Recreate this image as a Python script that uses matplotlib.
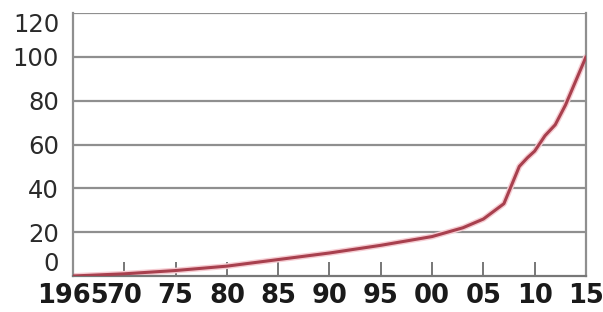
import matplotlib
matplotlib.use("Agg")
import matplotlib.pyplot as plt

years = [1965, 1970, 1975, 1980, 1985, 1990, 1995, 2000, 2003, 2005, 2007,
         2008.5, 2009.3, 2010, 2011, 2012, 2013, 2014, 2015]
values = [0, 1, 2.5, 4.5, 7.5, 10.5, 14, 18, 22, 26, 33,
          50, 54, 57, 64, 69, 78, 89, 100]

xticks = [1965, 1970, 1975, 1980, 1985, 1990, 1995, 2000, 2005, 2010, 2015]
xlabels = ["1965", "70", "75", "80", "85", "90", "95", "00", "05", "10", "15"]
yticks = [0, 20, 40, 60, 80, 100, 120]

fig = plt.figure(figsize=(6.03, 3.12), dpi=100)
ax = fig.add_axes([73/603, 1-276/312, (586-73)/603, (276-13)/312])

ax.set_xlim(1965, 2015)
ax.set_ylim(0, 120)

for y in yticks[1:]:
    ax.axhline(y, color="#8f8f8f", lw=1.6, zorder=1)

# soft glow + main line
ax.plot(years, values, color="#f6ccd2", lw=4.2, solid_capstyle="round", zorder=2)
ax.plot(years, values, color="#a8404e", lw=2.2, solid_capstyle="round", zorder=3)

ax.set_yticks(yticks)
ax.set_yticklabels([str(v) for v in yticks], fontsize=17.5, color="#2a2a2a")
ax.set_xticks(xticks)
ax.set_xticklabels(xlabels, fontsize=18.5, fontweight="bold", color="#1a1a1a")

ax.tick_params(axis="y", length=0, pad=10)
ax.tick_params(axis="x", direction="in", length=10, width=1.4, color="#777777", pad=5)

tl = ax.get_yticklabels()
tl[0].set_va("bottom")
tl[-1].set_va("top")

for side in ["left", "right", "bottom"]:
    ax.spines[side].set_color("#8f8f8f")
    ax.spines[side].set_linewidth(1.6)
ax.spines["bottom"].set_color("#777777")
ax.spines["top"].set_visible(False)

fig.savefig("out.png", dpi=100, facecolor="white")
